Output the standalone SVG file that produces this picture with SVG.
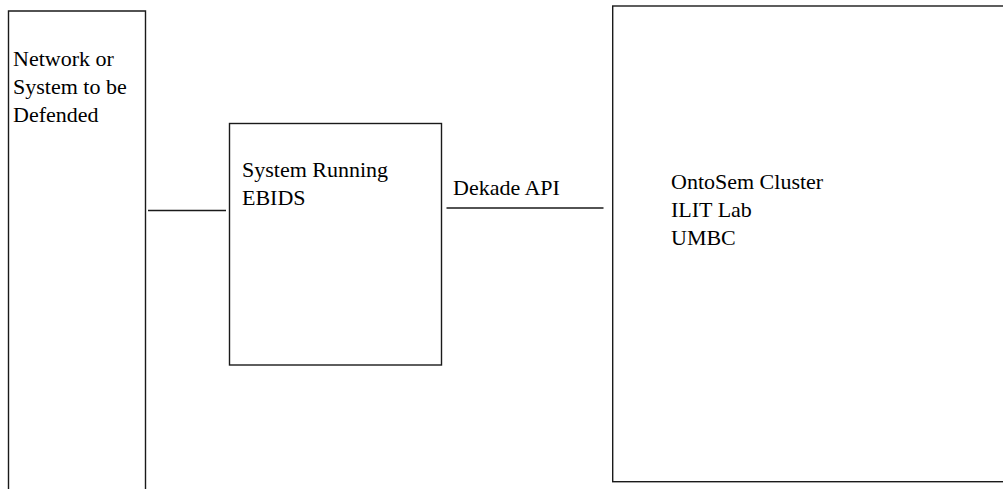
<svg xmlns="http://www.w3.org/2000/svg" width="1003" height="489" viewBox="0 0 1003 489">
<style>
.box{fill:#fff;stroke:#1a1a1a;stroke-width:1.4}
.ln{stroke:#1a1a1a;stroke-width:1.4;fill:none}
.t{font-family:"Liberation Serif","Times New Roman",serif;font-size:22px;fill:#000}
</style>
<rect width="1003" height="489" fill="#fff"/>
<g id="network">
<path class="box" d="M8.5,495 V11 H145.5 V495"/>
<text class="t" x="13" y="66">Network or</text>
<text class="t" x="13" y="94">System to be</text>
<text class="t" x="13" y="122">Defended</text>
</g>
<g id="ebids">
<rect class="box" x="229.5" y="123.5" width="212" height="241.5"/>
<text class="t" x="242" y="177">System Running</text>
<text class="t" x="242" y="205">EBIDS</text>
</g>
<g id="ontosem">
<rect class="box" x="612.7" y="6" width="400" height="475.7"/>
<text class="t" x="671" y="189">OntoSem Cluster</text>
<text class="t" x="671" y="217">ILIT Lab</text>
<text class="t" x="671" y="245">UMBC</text>
</g>
<g id="connectors">
<line class="ln" x1="148" y1="210.5" x2="226" y2="210.5"/>
<line class="ln" x1="446.5" y1="208" x2="603.5" y2="208"/>
<text class="t" x="453" y="195">Dekade API</text>
</g>
</svg>
